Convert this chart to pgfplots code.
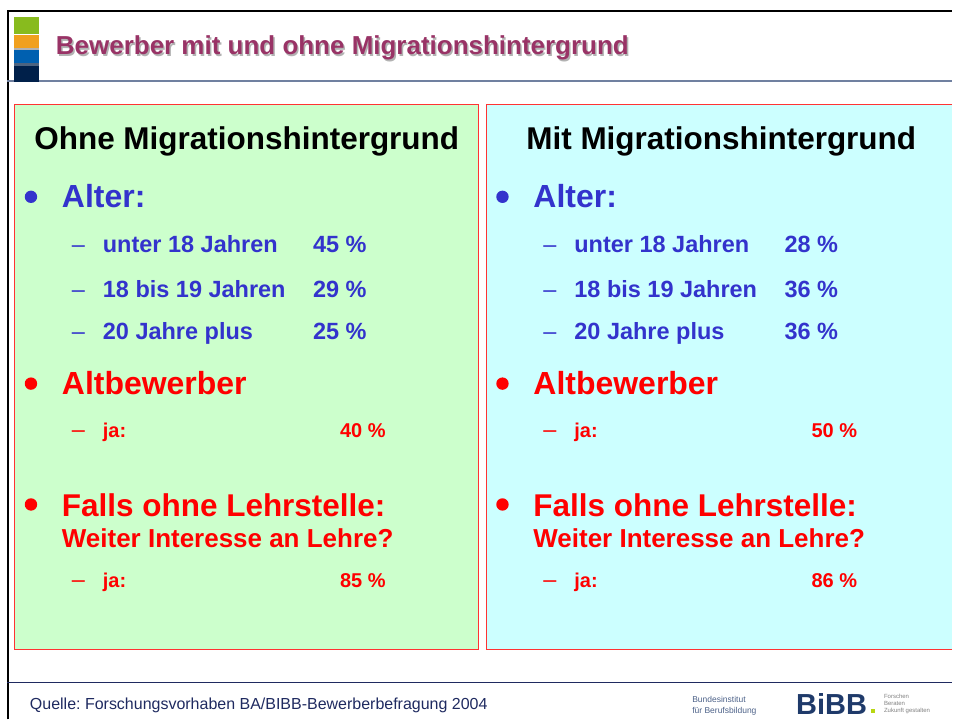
\documentclass[border=0pt]{standalone}
\usepackage{pgfplots}
\pgfplotsset{compat=1.18}
\usepackage{fontspec}
\setmainfont{Liberation Sans}
\frenchspacing

\definecolor{titlepurple}{HTML}{993366}
\definecolor{txtblue}{HTML}{3333CC}
\definecolor{txtred}{HTML}{FF0000}
\definecolor{panelgreen}{HTML}{CCFFCC}
\definecolor{panelcyan}{HTML}{CCFFFF}
\definecolor{navy}{HTML}{1F2A60}
\definecolor{rulegray}{HTML}{7080A0}
\definecolor{logogreen}{HTML}{88BB1E}
\definecolor{logoorange}{HTML}{F0A01E}
\definecolor{logoblue}{HTML}{0060B0}
\definecolor{logonavy}{HTML}{00204A}
\definecolor{bibbblue}{HTML}{1F3A6A}

\newcommand{\fs}[1]{\fontsize{#1}{#1}\selectfont}

\begin{document}
\begin{tikzpicture}[every node/.style={inner sep=0pt, outer sep=0pt}]
\begin{axis}[
  width=953pt, height=720pt, scale only axis,
  xmin=0, xmax=953, ymin=0, ymax=720, y dir=reverse,
  hide axis, clip=false]

% keep the whole slide area as the bounding box
\path (axis cs:0,0) -- (axis cs:953,720);

% frame and rules
\draw[black, line width=2pt] (axis cs:8,720) -- (axis cs:8,11) -- (axis cs:953,11);
\draw[rulegray, line width=1.5pt] (axis cs:7,81) -- (axis cs:953,81);
\draw[navy, line width=1.2pt] (axis cs:7,683) -- (axis cs:953,683);

% logo squares
\fill[logogreen]  (axis cs:14,17) rectangle (axis cs:39,34);
\fill[logoorange] (axis cs:14,35) rectangle (axis cs:39,48);
\fill[gray!60]    (axis cs:14,48) rectangle (axis cs:39,50);
\fill[logoblue]   (axis cs:14,50) rectangle (axis cs:39,63);
\fill[logonavy!70](axis cs:14,63) rectangle (axis cs:39,66);
\fill[logonavy]   (axis cs:14,66) rectangle (axis cs:39,82);

% title with shadow
\node[inner sep=0pt, anchor=base west, text=gray!60, font=\bfseries\fs{26}] at (axis cs:57.5,56.5) {Bewerber mit und ohne Migrationshintergrund};
\node[inner sep=0pt, anchor=base west, text=titlepurple, font=\bfseries\fs{26}] at (axis cs:56,55) {Bewerber mit und ohne Migrationshintergrund};

% panels
\filldraw[fill=panelgreen, draw=red!80, line width=0.8pt] (axis cs:14,105) rectangle (axis cs:479,650);
\fill[panelcyan] (axis cs:487,105) rectangle (axis cs:953,650);
\draw[red!80, line width=0.8pt] (axis cs:953,105) -- (axis cs:487,105) -- (axis cs:487,650) -- (axis cs:953,650);

% headers
\node[inner sep=0pt, anchor=base, font=\bfseries\fs{31.5}] at (axis cs:247,150) {Ohne Migrationshintergrund};
\node[inner sep=0pt, anchor=base, font=\bfseries\fs{31.5}] at (axis cs:722,150) {Mit Migrationshintergrund};

% bullets and labels, left panel at offset 0, right panel at offset 472
\pgfplotsinvokeforeach{0,472}{
  \fill[txtblue] (axis cs:31+#1,197) circle[radius=6.2pt];
  \fill[txtred]  (axis cs:31+#1,384) circle[radius=6.2pt];
  \fill[txtred]  (axis cs:31+#1,505) circle[radius=6.2pt];
  \node[inner sep=0pt, anchor=base west, text=txtblue, font=\bfseries\fs{32}] at (axis cs:62+#1,208) {Alter:};
  \node[inner sep=0pt, anchor=base west, text=txtred, font=\bfseries\fs{32}] at (axis cs:62+#1,395) {Altbewerber};
  \node[inner sep=0pt, anchor=base west, text=txtred, font=\bfseries\fs{31.5}] at (axis cs:62+#1,517) {Falls ohne Lehrstelle:};
  \node[inner sep=0pt, anchor=base west, text=txtred, font=\bfseries\fs{26}] at (axis cs:62+#1,548) {Weiter Interesse an Lehre?};
  \node[inner sep=0pt, anchor=base west, text=txtblue, font=\fs{23.5}] at (axis cs:72+#1,253) {\textendash};
  \node[inner sep=0pt, anchor=base west, text=txtblue, font=\fs{23.5}] at (axis cs:72+#1,298) {\textendash};
  \node[inner sep=0pt, anchor=base west, text=txtblue, font=\fs{23.5}] at (axis cs:72+#1,340) {\textendash};
  \node[inner sep=0pt, anchor=base west, text=txtblue, font=\bfseries\fs{23.5}] at (axis cs:103+#1,253) {unter 18 Jahren};
  \node[inner sep=0pt, anchor=base west, text=txtblue, font=\bfseries\fs{23.5}] at (axis cs:103+#1,298) {18 bis 19 Jahren};
  \node[inner sep=0pt, anchor=base west, text=txtblue, font=\bfseries\fs{23.5}] at (axis cs:103+#1,340) {20 Jahre plus};
  \node[inner sep=0pt, anchor=base west, text=txtred, font=\fs{23.5}] at (axis cs:72+#1,438) {\textendash};
  \node[inner sep=0pt, anchor=base west, text=txtred, font=\fs{23.5}] at (axis cs:72+#1,588) {\textendash};
  \node[inner sep=0pt, anchor=base west, text=txtred, font=\bfseries\fs{20}] at (axis cs:103+#1,438) {ja:};
  \node[inner sep=0pt, anchor=base west, text=txtred, font=\bfseries\fs{20}] at (axis cs:103+#1,588) {ja:};
}

% age shares (ohne / mit)
\addplot[draw=none, nodes near coords, point meta=explicit symbolic,
  every node near coord/.append style={anchor=base east, inner sep=0pt,
    font=\bfseries\fs{23.5}, text=txtblue}]
  coordinates {
  (367,253) [45 \%]
  (367,298) [29 \%]
  (367,340) [25 \%]
  (839,253) [28 \%]
  (839,298) [36 \%]
  (839,340) [36 \%]};
% Altbewerber / weiter Interesse
\addplot[draw=none, nodes near coords, point meta=explicit symbolic,
  every node near coord/.append style={anchor=base east, inner sep=0pt,
    font=\bfseries\fs{20}, text=txtred}]
  coordinates {
  (386,438) [40 \%]
  (386,588) [85 \%]
  (858,438) [50 \%]
  (858,588) [86 \%]};

% footer
\node[inner sep=0pt, anchor=base west, text=navy, font=\fs{16}] at (axis cs:30,710) {Quelle: Forschungsvorhaben BA/BIBB-Bewerberbefragung 2004};
\node[inner sep=0pt, anchor=base west, text=bibbblue!80, font=\fs{8.5}] at (axis cs:693,703) {Bundesinstitut};
\node[inner sep=0pt, anchor=base west, text=bibbblue!80, font=\fs{8.5}] at (axis cs:693,714) {für Berufsbildung};
\node[inner sep=0pt, anchor=base west, text=bibbblue, font=\bfseries\fs{29}] at (axis cs:797,715) {BiBB};
\fill[logogreen!60!yellow] (axis cs:872,710) rectangle (axis cs:876,714);
\node[inner sep=0pt, anchor=base west, text=gray, font=\fs{6}] at (axis cs:885,699) {Forschen};
\node[inner sep=0pt, anchor=base west, text=gray, font=\fs{6}] at (axis cs:885,706) {Beraten};
\node[inner sep=0pt, anchor=base west, text=gray, font=\fs{6}] at (axis cs:885,713) {Zukunft gestalten};
\end{axis}
\end{tikzpicture}
\end{document}
